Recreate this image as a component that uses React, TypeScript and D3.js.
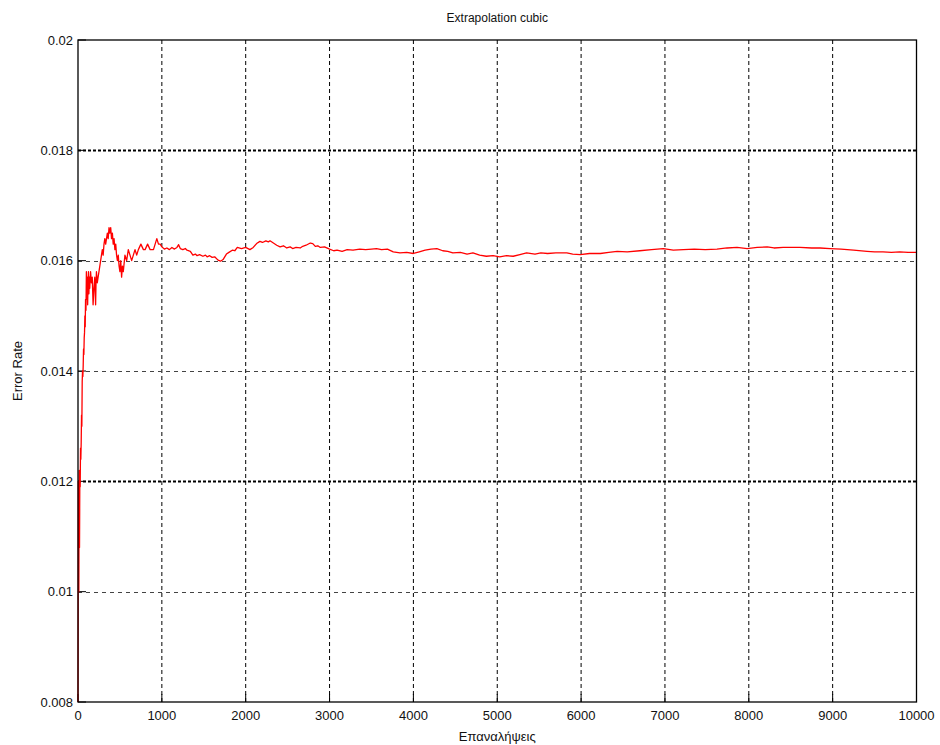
import React from "react";
import * as d3 from "d3";

const title = "Extrapolation cubic";
const xLabel = "Επαναλήψεις";
const yLabel = "Error Rate";

const xTicks = [0, 1000, 2000, 3000, 4000, 5000, 6000, 7000, 8000, 9000, 10000];
const yTicks = [0.008, 0.01, 0.012, 0.014, 0.016, 0.018, 0.02];
const yTickLabels = ["0.008", "0.01", "0.012", "0.014", "0.016", "0.018", "0.02"];

const iterations = [
  0, 2, 4, 6, 8, 10, 14, 18, 22, 26, 30, 34, 38, 42, 46, 50, 54, 58, 62, 66, 70, 74, 78, 82, 86, 90, 95,
  100, 105, 110, 115, 120, 125, 130, 135, 140, 150, 160, 170, 180, 190, 200, 210, 215, 220, 230, 240, 250,
  260, 270, 280, 290, 300, 310, 320, 330, 340, 350, 360, 370, 380, 390, 400, 410, 420, 430, 440, 450, 460,
  470, 480, 490, 500, 510, 520, 530, 540, 560, 580, 600, 620, 640, 660, 680, 700, 720, 750, 780, 800, 830,
  860, 900, 940, 960, 980,
  1000, 1030, 1060, 1090, 1120, 1150, 1180, 1200, 1220, 1250,
  1280, 1300, 1340, 1370, 1400, 1420, 1450, 1490, 1520, 1540,
  1570, 1600, 1630, 1670, 1700, 1730, 1770, 1800, 1840, 1870,
  1900, 1950, 2000, 2050, 2090, 2130, 2170, 2200, 2240, 2270,
  2290, 2330, 2370, 2410, 2450, 2490, 2530, 2560, 2600, 2650,
  2680, 2720, 2770, 2800, 2830, 2860, 2890, 2940, 3000, 3050,
  3090, 3150, 3210, 3280, 3360, 3430, 3500, 3560, 3620, 3690,
  3760, 3840, 3920, 4000, 4070, 4140, 4210, 4280, 4350, 4410,
  4470, 4560, 4640, 4710, 4790, 4870, 4950, 5030, 5110, 5190,
  5270, 5350, 5450, 5520, 5600, 5700, 5830, 5900, 5990, 6100,
  6230, 6330, 6430, 6550, 6700, 6840, 6980, 7100, 7220, 7350,
  7480, 7620, 7740, 7860, 7980, 8100, 8220, 8300, 8410, 8510,
  8610, 8750, 8850, 8970, 9100, 9250, 9410, 9500, 9600, 9700,
  9800, 9900, 10000,
];

const errorRate = [
  0.008, 0.0097, 0.012, 0.0105, 0.0118, 0.01, 0.0122, 0.0108, 0.0121, 0.0119, 0.0126, 0.0124, 0.0127,
  0.0132, 0.013, 0.0138, 0.014, 0.0139, 0.0141, 0.0144, 0.0143, 0.0146, 0.0147, 0.015, 0.0148, 0.0153, 0.0151,
  0.0158, 0.0153, 0.0157, 0.0152, 0.0156, 0.0158, 0.0154, 0.0157, 0.0155, 0.0158, 0.0156, 0.0157, 0.0152,
  0.0155, 0.0157, 0.0152, 0.0156, 0.0158, 0.0156, 0.0157, 0.0158,
  0.0159, 0.016, 0.0161, 0.0162, 0.0161, 0.0163, 0.0164, 0.0163, 0.0164, 0.0165, 0.0164, 0.0166, 0.0165,
  0.0166, 0.0164, 0.0165, 0.0163, 0.0164, 0.0162, 0.0163, 0.0161,
  0.016, 0.0161, 0.0159, 0.0158, 0.016, 0.0157, 0.0159, 0.0158, 0.0161, 0.016, 0.0162, 0.0161, 0.016,
  0.0161, 0.0162, 0.0161, 0.0162, 0.0163, 0.0162, 0.0162, 0.0163,
  0.0162, 0.0162, 0.0164, 0.0163, 0.0163,
  0.01625, 0.01621, 0.01623, 0.0162, 0.01624, 0.01621, 0.01624, 0.01629, 0.01622, 0.0162,
  0.01622, 0.01619, 0.01617, 0.0161, 0.01612, 0.01609, 0.01611, 0.01608, 0.0161, 0.01607,
  0.01609, 0.01606, 0.01607, 0.01601, 0.01599, 0.01602, 0.01612, 0.01615, 0.01619, 0.01618,
  0.01624, 0.01622, 0.01624, 0.0162, 0.01624, 0.01631, 0.01635, 0.01633, 0.01636, 0.01634,
  0.01636, 0.01632, 0.01628, 0.01625, 0.01627, 0.01623, 0.01625, 0.01622, 0.01624, 0.01623,
  0.01626, 0.01628, 0.01632, 0.01631, 0.01626, 0.01627, 0.01624, 0.01625, 0.01621, 0.01618,
  0.01619, 0.01617, 0.0162, 0.01619, 0.01621, 0.0162, 0.01621, 0.01622, 0.0162, 0.01621,
  0.01616, 0.01614, 0.01615, 0.01613, 0.01616, 0.01619, 0.01621, 0.01622, 0.01618, 0.01617,
  0.01614, 0.01615, 0.01612, 0.01614, 0.0161, 0.01608, 0.01609, 0.01607, 0.01609, 0.01608,
  0.01611, 0.01614, 0.01612, 0.01614, 0.01613, 0.01614, 0.01614, 0.01612, 0.01611, 0.01613,
  0.01613, 0.01615, 0.01617, 0.01616, 0.01618, 0.0162, 0.01622, 0.01619, 0.0162, 0.01621,
  0.0162, 0.01621, 0.01623, 0.01624, 0.01622, 0.01624, 0.01625, 0.01623, 0.01624, 0.01624,
  0.01624, 0.01623, 0.01623, 0.01622, 0.01621, 0.01619, 0.01617, 0.01616, 0.01616, 0.01615,
  0.01616, 0.01615, 0.01615,
];

const W = 940;
const H = 745;
const left = 78;
const right = 916.5;
const top = 40;
const bottom = 702;

export default function App() {
  const x = d3.scaleLinear().domain([0, 10000]).range([left, right]);
  const y = d3.scaleLinear().domain([0.008, 0.02]).range([bottom, top]);
  const n = Math.min(iterations.length, errorRate.length);
  const data = iterations.slice(0, n).map((it, i) => [it, errorRate[i]] as [number, number]);
  const line = d3
    .line<[number, number]>()
    .x((d) => x(d[0]))
    .y((d) => y(d[1]));
  const font = "'Liberation Sans', Arial, sans-serif";

  return (
    <svg
      width={W}
      height={H}
      style={{ position: "absolute", left: 0, top: 0, background: "#fff" }}
      fontFamily={font}
    >
      <rect x={0} y={0} width={W} height={H} fill="#fff" />
      {xTicks.slice(1, -1).map((t) => (
        <line
          key={"vx" + t}
          x1={x(t)}
          x2={x(t)}
          y1={top}
          y2={bottom}
          stroke="#000"
          strokeWidth={1}
          strokeDasharray="4,3"
        />
      ))}
      {yTicks.slice(1, -1).map((t, i) => {
        const strong = Math.abs(t - 0.018) < 1e-9 || Math.abs(t - 0.012) < 1e-9;
        return (
          <line
            key={"hy" + i}
            x1={left}
            x2={right}
            y1={Math.round(y(t)) + 0.5}
            y2={Math.round(y(t)) + 0.5}
            stroke={strong ? "#000" : "#444"}
            strokeWidth={strong ? 2 : 1}
            strokeDasharray={strong ? "3,2" : "4,4"}
          />
        );
      })}
      {xTicks.map((t) => (
        <g key={"tx" + t}>
          <line x1={x(t)} x2={x(t)} y1={bottom} y2={bottom - 8} stroke="#000" />
          <text x={x(t)} y={bottom + 18} textAnchor="middle" fontSize={13} fill="#111">
            {t}
          </text>
        </g>
      ))}
      {yTicks.map((t, i) => (
        <g key={"ty" + i}>
          <line x1={left} x2={left + 8} y1={y(t)} y2={y(t)} stroke="#000" />
          <text x={left - 5} y={y(t) + 4.5} textAnchor="end" fontSize={13} fill="#111">
            {yTickLabels[i]}
          </text>
        </g>
      ))}
      <path d={line(data) || ""} fill="none" stroke="#ff0000" strokeWidth={1.3} strokeLinejoin="round" />
      <rect
        x={left}
        y={top}
        width={right - left}
        height={bottom - top}
        fill="none"
        stroke="#000"
        strokeWidth={1.3}
      />
      <text x={(left + right) / 2} y={22} textAnchor="middle" fontSize={12} fill="#111">
        {title}
      </text>
      <text x={(left + right) / 2} y={741} textAnchor="middle" fontSize={13} fill="#111">
        {xLabel}
      </text>
      <text
        transform={`translate(22, ${(top + bottom) / 2}) rotate(-90)`}
        textAnchor="middle"
        fontSize={13}
        fill="#111"
      >
        {yLabel}
      </text>
    </svg>
  );
}
